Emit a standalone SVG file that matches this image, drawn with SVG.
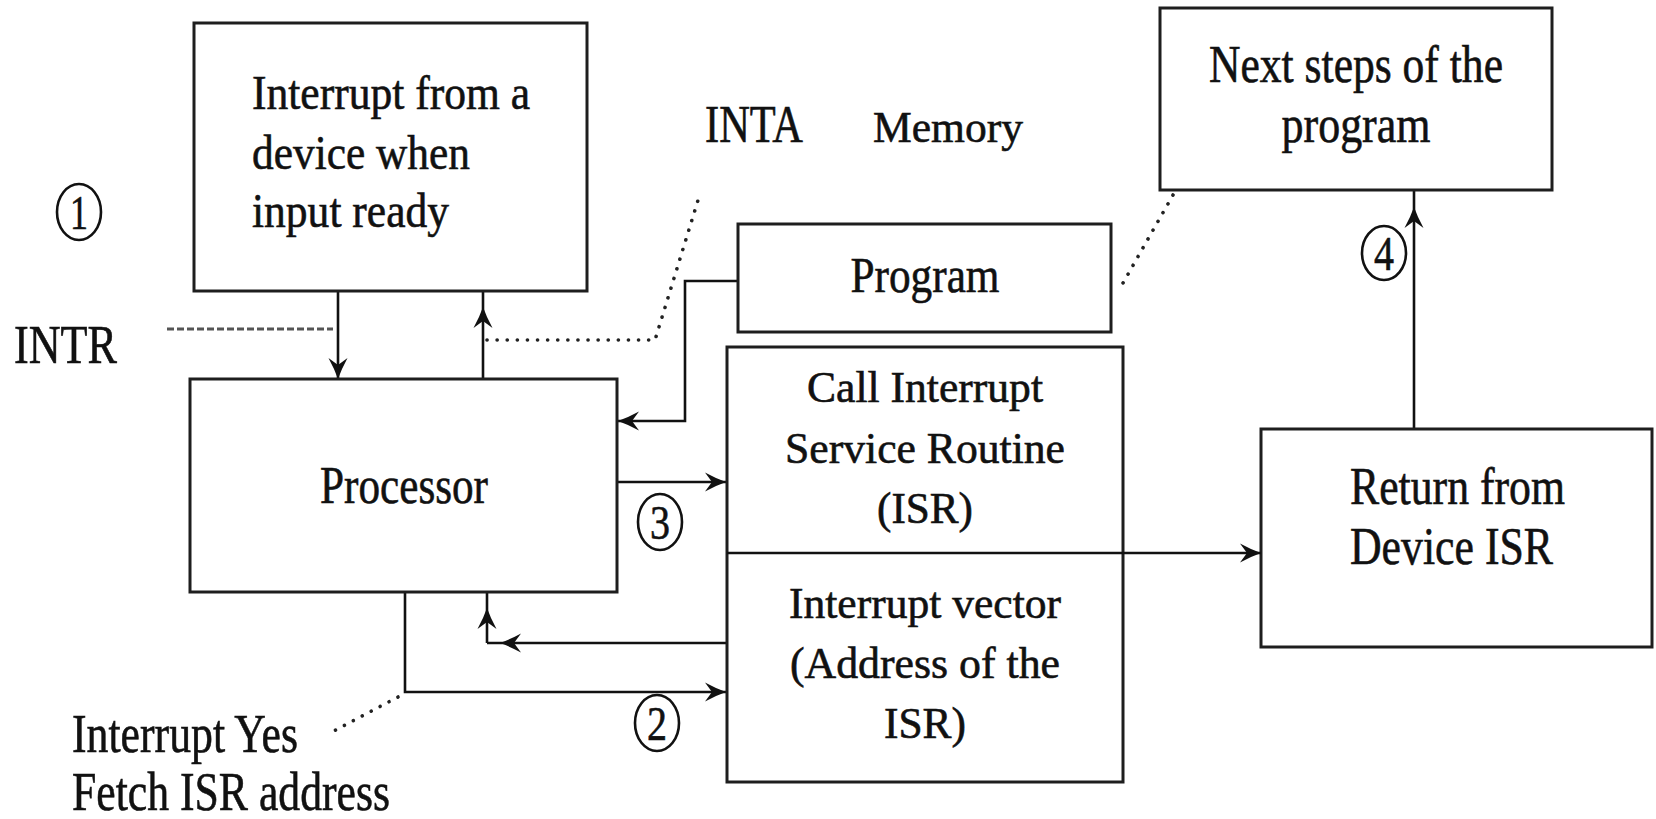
<svg xmlns="http://www.w3.org/2000/svg" width="1656" height="819" viewBox="0 0 1656 819">
  <style>
    .box { fill: #fff; stroke: #1e1e1e; stroke-width: 3; }
    .wire { fill: none; stroke: #111; stroke-width: 2.6; }
    .dash { fill: none; stroke: #555; stroke-width: 2.8; stroke-dasharray: 7 3; }
    .dots { fill: none; stroke: #222; stroke-width: 3.6; stroke-linecap: round; stroke-dasharray: 0.1 10; }
    .t { font-family: "Liberation Serif", "Times New Roman", serif; fill: #111; stroke: #111; stroke-width: 0.6; }
    .num { fill: none; stroke: #111; stroke-width: 2.6; }
  </style>
  <defs>
    <marker id="arrow" viewBox="-24 -11 26 22" refX="0" refY="0" markerWidth="26" markerHeight="22" markerUnits="userSpaceOnUse" orient="auto">
      <path d="M0,0 Q-10,-3.5 -21,-9.5 L-14,0 L-21,9.5 Q-10,3.5 0,0 Z" fill="#111"/>
    </marker>
  </defs>

  <rect width="1656" height="819" fill="#fff"/>

  <!-- connectors -->
  <g id="connectors">
    <!-- INTR request line -->
    <path class="dash" d="M167,329 H333"/>
    <!-- interrupt request into processor -->
    <path class="wire" d="M338,291 V379" marker-end="url(#arrow)"/>
    <!-- acknowledge back to device -->
    <path class="wire" d="M483,379 V307 V291" marker-mid="url(#arrow)"/>
    <!-- INTA leader -->
    <path class="dots" d="M487,340 H655 L699,197"/>
    <!-- program to processor -->
    <path class="wire" d="M738,281 H685 V421 H618" marker-end="url(#arrow)"/>
    <!-- step 3: processor calls ISR -->
    <path class="wire" d="M617,482 H726" marker-end="url(#arrow)"/>
    <!-- step 2: fetch vector -->
    <path class="wire" d="M405,592 V692 H726" marker-end="url(#arrow)"/>
    <!-- vector address back to processor -->
    <path class="wire" d="M727,643 H500 H487" marker-mid="url(#arrow)"/>
    <path class="wire" d="M487,643 V608 V592" marker-mid="url(#arrow)"/>
    <!-- step 4: return to program -->
    <path class="wire" d="M1414,429 V207 V190" marker-mid="url(#arrow)"/>
    <!-- memory leader -->
    <path class="dots" d="M1173,195 L1123,283"/>
    <!-- interrupt yes leader -->
    <path class="dots" d="M398,697 L330,733"/>
  </g>

  <!-- nodes -->
  <g id="device">
    <rect class="box" x="194" y="23" width="393" height="268"/>
    <text class="t" font-size="48" x="252" y="109" textLength="278" lengthAdjust="spacingAndGlyphs">Interrupt from a</text>
    <text class="t" font-size="48" x="252" y="169" textLength="218" lengthAdjust="spacingAndGlyphs">device when</text>
    <text class="t" font-size="48" x="252" y="227" textLength="197" lengthAdjust="spacingAndGlyphs">input ready</text>
  </g>

  <g id="processor">
    <rect class="box" x="190" y="379" width="427" height="213"/>
    <text class="t" font-size="53" x="404" y="503" text-anchor="middle" textLength="168" lengthAdjust="spacingAndGlyphs">Processor</text>
  </g>

  <g id="program">
    <rect class="box" x="738" y="224" width="373" height="108"/>
    <text class="t" font-size="51" x="925" y="292" text-anchor="middle" textLength="149" lengthAdjust="spacingAndGlyphs">Program</text>
  </g>

  <g id="isr">
    <rect class="box" x="727" y="347" width="396" height="435"/>
    <text class="t" font-size="44" x="925" y="402" text-anchor="middle" textLength="236" lengthAdjust="spacingAndGlyphs">Call Interrupt</text>
    <text class="t" font-size="44" x="925" y="463" text-anchor="middle" textLength="280" lengthAdjust="spacingAndGlyphs">Service Routine</text>
    <text class="t" font-size="44" x="925" y="523" text-anchor="middle" textLength="96" lengthAdjust="spacingAndGlyphs">(ISR)</text>
  </g>

  <g id="vector">
    <text class="t" font-size="44" x="925" y="618" text-anchor="middle" textLength="272" lengthAdjust="spacingAndGlyphs">Interrupt vector</text>
    <text class="t" font-size="44" x="925" y="678" text-anchor="middle" textLength="270" lengthAdjust="spacingAndGlyphs">(Address of the</text>
    <text class="t" font-size="44" x="925" y="738" text-anchor="middle" textLength="82" lengthAdjust="spacingAndGlyphs">ISR)</text>
  </g>

  <g id="return">
    <rect class="box" x="1261" y="429" width="391" height="218"/>
    <text class="t" font-size="52" x="1350" y="504" textLength="215" lengthAdjust="spacingAndGlyphs">Return from</text>
    <text class="t" font-size="52" x="1350" y="564" textLength="203" lengthAdjust="spacingAndGlyphs">Device ISR</text>
  </g>

  <g id="next">
    <rect class="box" x="1160" y="8" width="392" height="182"/>
    <text class="t" font-size="52" x="1356" y="82" text-anchor="middle" textLength="294" lengthAdjust="spacingAndGlyphs">Next steps of the</text>
    <text class="t" font-size="52" x="1356" y="142" text-anchor="middle" textLength="149" lengthAdjust="spacingAndGlyphs">program</text>
  </g>

  <!-- ISR/vector boundary, continuing on to the return block -->
  <g id="isr-exit">
    <path class="wire" d="M727,553 H1261" marker-end="url(#arrow)"/>
  </g>

  <!-- free labels -->
  <g id="labels">
    <text class="t" font-size="54" x="14" y="363" textLength="103" lengthAdjust="spacingAndGlyphs">INTR</text>
    <text class="t" font-size="53" x="705" y="142" textLength="98" lengthAdjust="spacingAndGlyphs">INTA</text>
    <text class="t" font-size="45" x="873" y="142" textLength="150" lengthAdjust="spacingAndGlyphs">Memory</text>
    <text class="t" font-size="55" x="72" y="752" textLength="226" lengthAdjust="spacingAndGlyphs">Interrupt Yes</text>
    <text class="t" font-size="55" x="72" y="810" textLength="318" lengthAdjust="spacingAndGlyphs">Fetch ISR address</text>
  </g>

  <!-- step numbers -->
  <g id="step1">
    <ellipse class="num" cx="79" cy="212" rx="22" ry="28"/>
    <text class="t" font-size="48" x="79" y="229" text-anchor="middle" textLength="18" lengthAdjust="spacingAndGlyphs">1</text>
  </g>
  <g id="step2">
    <ellipse class="num" cx="657" cy="723" rx="22" ry="28"/>
    <text class="t" font-size="48" x="657" y="740" text-anchor="middle" textLength="20" lengthAdjust="spacingAndGlyphs">2</text>
  </g>
  <g id="step3">
    <ellipse class="num" cx="660" cy="522" rx="22" ry="28"/>
    <text class="t" font-size="48" x="660" y="539" text-anchor="middle" textLength="20" lengthAdjust="spacingAndGlyphs">3</text>
  </g>
  <g id="step4">
    <ellipse class="num" cx="1384" cy="253" rx="22" ry="27"/>
    <text class="t" font-size="48" x="1384" y="270" text-anchor="middle" textLength="20" lengthAdjust="spacingAndGlyphs">4</text>
  </g>
</svg>
